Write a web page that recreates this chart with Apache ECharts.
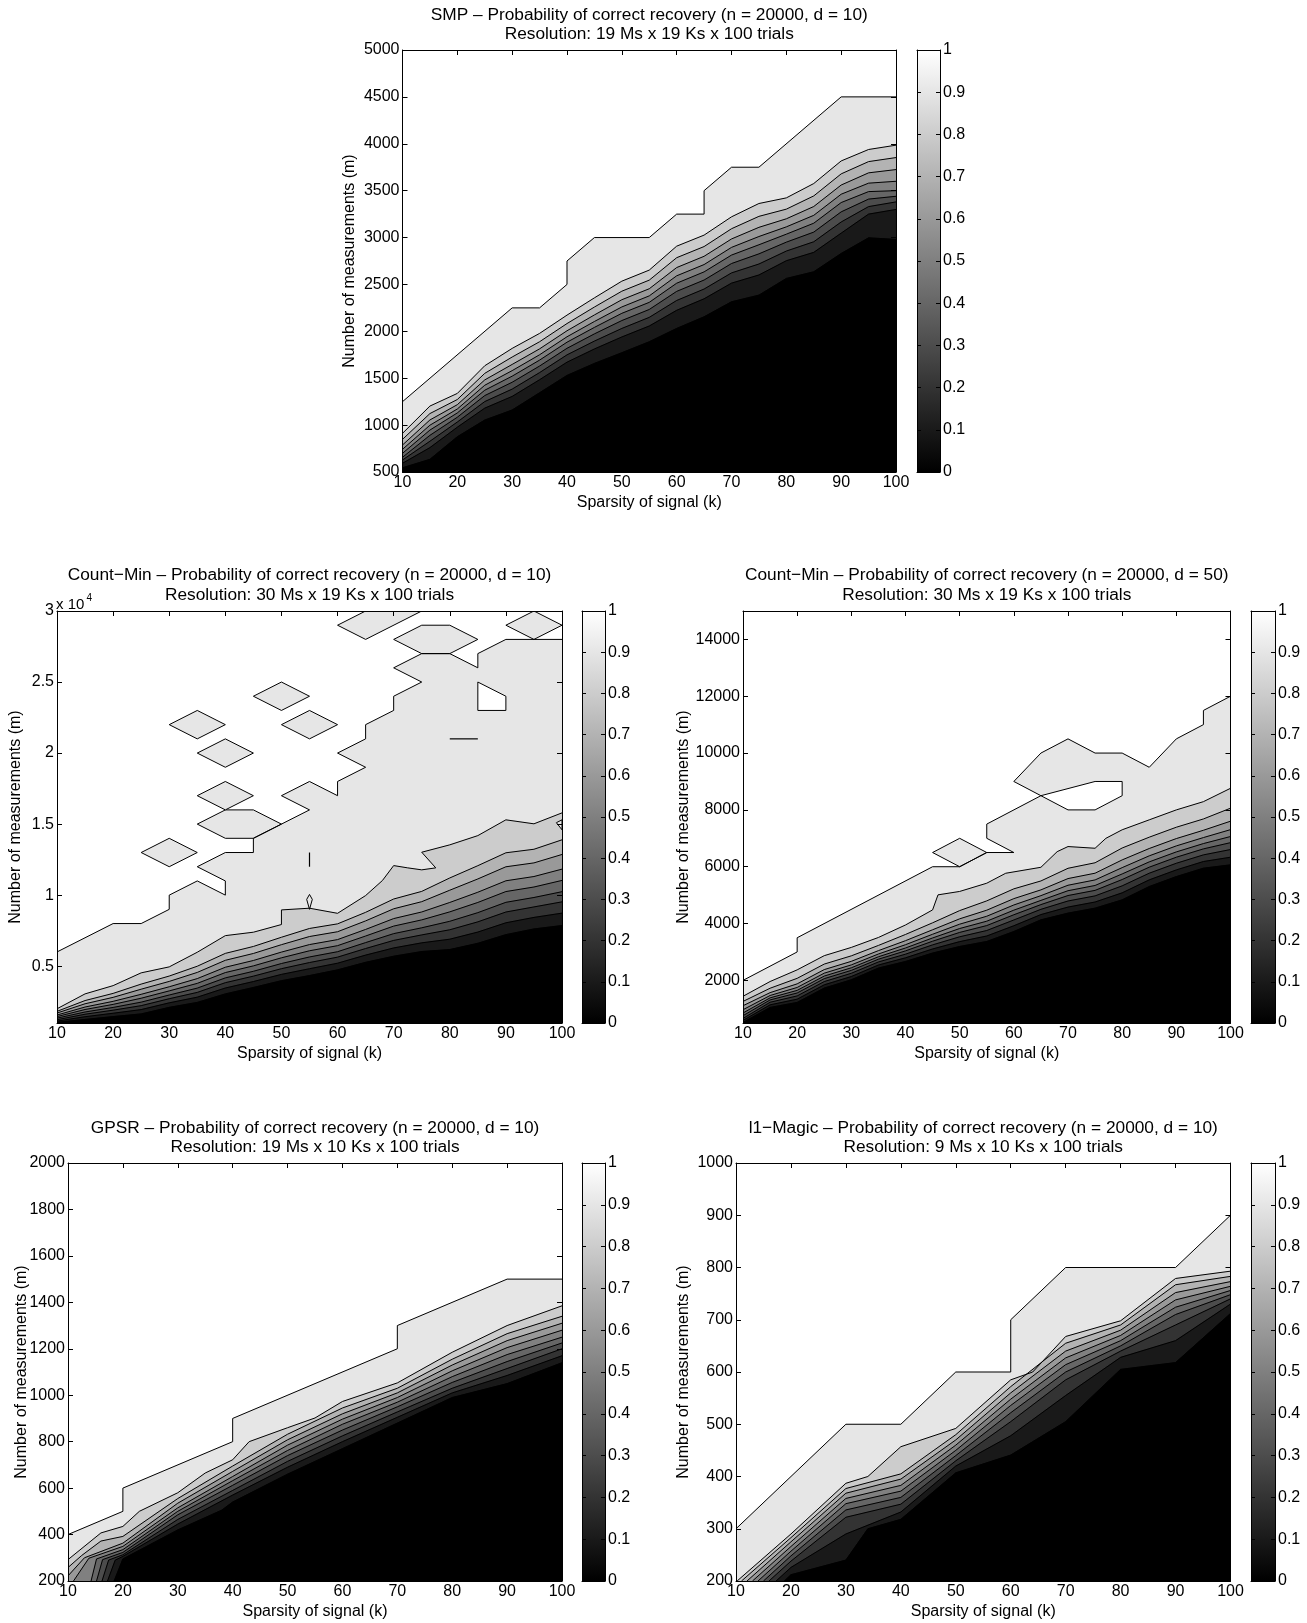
<!DOCTYPE html>
<html><head><meta charset="utf-8">
<script src="https://cdn.jsdelivr.net/npm/echarts@6/dist/echarts.min.js"></script>
<style>html,body{margin:0;padding:0;background:#fff}#c{width:1307px;height:1623px}</style>
</head><body><div id="c"></div>
<script>
// ---------------- DATA ----------------
const K19 = [10,15,20,25,30,35,40,45,50,55,60,65,70,75,80,85,90,95,100];
const xTicks = [10,20,30,40,50,60,70,80,90,100];
const cbarTicks = [0,0.1,0.2,0.3,0.4,0.5,0.6,0.7,0.8,0.9,1];
const cbarLabels = ['0','0.1','0.2','0.3','0.4','0.5','0.6','0.7','0.8','0.9','1'];

// SMP
const smpYTicks = [500,1000,1500,2000,2500,3000,3500,4000,4500,5000];
const smpTop = [[10,1250],[30,2250],[35,2250],[40,2500],[40,2750],[45,3000],[55,3000],[60,3250],[65,3250],[65,3500],[70,3750],[75,3750],[90,4500],[100,4500]];
const smpP90 = [912,1203,1338,1633,1818,1978,2173,2357,2535,2653,2908,3026,3221,3363,3423,3576,3817,3939,3985];
const smpP80 = [848,1123,1273,1552,1726,1889,2083,2259,2428,2546,2785,2904,3094,3226,3303,3444,3679,3810,3853];
const smpP70 = [788,1055,1218,1482,1647,1813,2006,2175,2337,2454,2680,2800,2985,3109,3200,3331,3560,3690,3725];
const smpP60 = [742,999,1172,1425,1581,1750,1942,2105,2260,2378,2592,2712,2895,3011,3114,3237,3462,3580,3600];
const smpP50 = [699,947,1130,1372,1522,1693,1884,2042,2192,2309,2513,2634,2813,2923,3036,3153,3373,3490,3500];
const smpP40 = [657,891,1084,1315,1457,1630,1819,1973,2115,2233,2426,2547,2723,2826,2951,3058,3274,3410,3440];
const smpP30 = [628,828,1033,1251,1384,1560,1749,1896,2031,2149,2329,2451,2623,2718,2856,2955,3166,3330,3380];
const smpP20 = [593,760,978,1181,1306,1484,1671,1812,1940,2057,2224,2347,2514,2601,2753,2842,3047,3250,3300];
const smpP10 = [545,635,876,1054,1161,1345,1530,1658,1772,1889,2031,2155,2315,2386,2564,2635,2830,2997,2980];

// Count-Min d=10
const cm10YTicks = [5000,10000,15000,20000,25000,30000];
const cm10YLabels = ['0.5','1','1.5','2','2.5','3'];
const cm10Top = [[10,6000],[20,8000],[25,8000],[30,9000],[30,10000],[35,11000],[40,10000],[40,11000],[35,12000],[40,13000],[45,13000],[45,14000],[50,15000],[55,16000],[50,17000],[55,18000],[60,17000],[60,18000],[65,19000],[60,20000],[65,21000],[65,22000],[70,23000],[70,24000],[75,25000],[70,26000],[75,27000],[80,27000],[85,26000],[85,27000],[90,28000],[100,28000]];
const cm10P90 = [[10,2000],[15,3050],[20,3630],[25,4530],[30,4950],[35,5980],[40,7150],[45,7390],[50,7930],[50,8960],[55,9080],[60,8720],[65,9970],[68,11030],[70,12080],[72.5,11920],[75,11780],[77.5,11920],[75,13020],[80,13540],[85,14190],[90,15300],[95,15020],[100,15790]];
const cm10P80 = [1820,2580,3084,3738,4304,4996,5900,6388,7035,7654,7978,8789,9728,10263,11209,12074,12981,13229,13894];
const cm10P70 = [1700,2353,2805,3379,3927,4561,5413,5894,6513,7087,7424,8187,9039,9539,10347,11140,11995,12269,12862];
const cm10P60 = [1560,2125,2525,3020,3550,4125,4925,5400,5990,6520,6870,7585,8350,8815,9485,10205,11010,11310,11830];
const cm10P50 = [1450,1950,2310,2744,3260,3790,4550,5020,5588,6084,6444,7122,7820,8258,8822,9486,10252,10572,11036];
const cm10P40 = [1340,1775,2095,2468,2970,3455,4175,4640,5186,5648,6018,6659,7290,7701,8159,8767,9494,9834,10242];
const cm10P30 = [1230,1618,1902,2220,2709,3154,3838,4298,4824,5256,5635,6242,6813,7200,7562,8120,8812,9170,9527];
const cm10P20 = [1130,1443,1687,1944,2419,2819,3463,3918,4422,4820,5209,5779,6283,6643,6899,7401,8054,8432,8733];
const cm10P10 = [1050,1250,1450,1640,2100,2450,3050,3500,3980,4340,4740,5270,5700,6030,6170,6610,7220,7620,7860];
const cm10Islands = [
  [[25,13000],[30,14000],[35,13000],[30,12000]],
  [[35,15000],[40,16000],[45,16000],[50,15000],[45,14000],[40,14000]],
  [[35,17000],[40,18000],[45,17000],[40,16000]],
  [[35,20000],[40,21000],[45,20000],[40,19000]],
  [[30,22000],[35,23000],[40,22000],[35,21000]],
  [[50,22000],[55,23000],[60,22000],[55,21000]],
  [[45,24000],[50,25000],[55,24000],[50,23000]],
  [[60,29000],[65,30000],[75,30000],[65,28000]],
  [[70,28000],[75,29000],[80,29000],[85,28000],[80,27000],[75,27000]],
  [[90,29000],[95,30000],[100,29000],[95,28000]],
  [[55,9000],[54.5,9700],[55,10050],[55.5,9700]],
  [[99,15100],[100,14600],[100,15300]]
];
const cm10Holes = [[[85,25000],[90,24000],[90,23000],[85,23000]]];
const cm10Segs = [[[55,12000],[55,13000]],[[80,21000],[85,21000]]];

// Count-Min d=50
const cm50YTicks = [2000,4000,6000,8000,10000,12000,14000];
const cm50Top = [[10,2000],[20,3000],[20,3500],[45,6000],[50,6000],[55,6500],[60,6500],[55,7000],[55,7500],[65,8500],[60,9000],[65,10000],[70,10500],[75,10000],[80,10000],[85,9500],[90,10500],[95,11000],[95,11500],[100,12000]];
const cm50P90 = [[10,1440],[15,1960],[20,2370],[25,2870],[30,3160],[35,3510],[40,3950],[45,4480],[46,5010],[50,5130],[55,5420],[58.5,5770],[65,5980],[68,6530],[70,6710],[75,6650],[77,7000],[80,7300],[85,7650],[90,8000],[95,8290],[100,8760]];
const cm50P80 = [1259,1723,2072,2574,2864,3230,3616,4026,4456,4798,5222,5499,5945,6139,6659,7040,7390,7681,8060];
const cm50P70 = [1108,1568,1877,2380,2671,3047,3397,3781,4166,4470,4877,5185,5583,5772,6240,6641,6991,7283,7602];
const cm50P60 = [967,1468,1751,2254,2545,2928,3256,3623,3978,4257,4654,4982,5348,5535,5968,6383,6733,7026,7305];
const cm50P50 = [852,1385,1648,2152,2443,2831,3140,3493,3825,4083,4471,4815,5156,5340,5746,6171,6521,6815,7063];
const cm50P40 = [757,1312,1556,2061,2352,2745,3038,3378,3688,3929,4309,4667,4986,5168,5549,5984,6334,6628,6847];
const cm50P30 = [662,1230,1453,1958,2250,2648,2922,3249,3534,3755,4126,4501,4794,4974,5327,5772,6122,6417,6605];
const cm50P20 = [591,1139,1339,1844,2136,2541,2794,3105,3364,3562,3923,4316,4580,4758,5081,5538,5888,6183,6335];
const cm50P10 = [521,1048,1224,1730,2022,2433,2665,2961,3193,3369,3720,4131,4367,4542,4834,5303,5653,5949,6066];
const cm50Islands = [[[45,6500],[50,7000],[55,6500],[50,6000]]];
const cm50Holes = [[[65,8500],[70,8000],[75,8000],[80,8500],[80,9000],[75,9000]]];

// GPSR
const gpsrYTicks = [200,400,600,800,1000,1200,1400,1600,1800,2000];
const gpsrTop = [[10,400],[20,500],[20,600],[40,800],[40,900],[70,1200],[70,1300],[90,1500],[100,1500]];
const gpsrP90 = [[10,292],[16,407],[20,435],[23,500],[30,580],[35,665],[40,722],[43,800],[50,860],[55,902],[60,973],[70,1053],[80,1185],[90,1300],[100,1385]];
const gpsrP80 = [[10,258],[12.5,310],[16,372],[20,392],[30,555],[40,695],[50,832],[60,945],[70,1030],[80,1155],[90,1265],[100,1340]];
const gpsrP70 = [[10,222],[13,300],[20,363],[30,535],[40,672],[50,808],[60,920],[70,1010],[80,1130],[90,1235],[100,1310]];
const gpsrP60 = [[11,200],[13.8,298],[20,349],[30,515],[40,650],[50,785],[60,897],[70,990],[80,1105],[90,1205],[100,1280]];
const gpsrP50 = [[14.2,200],[15.2,295],[20,335],[30,500],[40,632],[50,762],[60,875],[70,970],[80,1080],[90,1175],[100,1250]];
const gpsrP40 = [[15.2,200],[16.3,292],[20,323],[30,485],[40,612],[50,740],[60,850],[70,950],[80,1055],[90,1145],[100,1225]];
const gpsrP30 = [[16.2,200],[17.4,290],[20,313],[30,465],[40,590],[50,715],[60,825],[70,928],[80,1030],[90,1115],[100,1200]];
const gpsrP20 = [[17.2,200],[18.6,290],[20,306],[30,445],[40,570],[50,690],[60,800],[70,905],[80,1010],[90,1085],[100,1170]];
const gpsrP10 = [[18.4,200],[20,295],[30,420],[38,505],[40,540],[50,660],[60,770],[70,880],[80,990],[90,1050],[100,1140]];

// l1-Magic
const l1mYTicks = [200,300,400,500,600,700,800,900,1000];
const l1mTop = [[10,300],[30,500],[40,500],[50,600],[60,600],[60,700],[70,800],[90,800],[100,900]];
const l1mP90 = [[10.2,200],[20,290],[30,387],[34,400],[40,457],[50,492],[60,585],[64,600],[70,668],[80,698],[90,779],[100,793]];
const l1mP80 = [[11,200],[20,283],[30,377],[40,405],[50,480],[60,572],[70,655],[80,690],[90,767],[100,783]];
const l1mP70 = [[12,200],[20,275],[30,368],[40,395],[50,470],[60,560],[70,640],[80,680],[90,752],[100,773]];
const l1mP60 = [[13,200],[20,266],[30,358],[40,383],[50,460],[60,548],[70,627],[80,670],[90,738],[100,764]];
const l1mP50 = [[14,200],[20,257],[30,348],[40,372],[50,450],[60,536],[70,614],[80,660],[90,724],[100,756]];
const l1mP40 = [[15,200],[20,248],[30,336],[40,360],[50,440],[60,522],[70,600],[80,650],[90,710],[100,748]];
const l1mP30 = [[16,200],[20,238],[30,322],[40,347],[50,430],[60,505],[70,585],[80,640],[90,690],[100,740]];
const l1mP20 = [[17.3,200],[20,226],[30,290],[40,332],[50,420],[60,478],[70,555],[80,628],[90,660],[100,730]];
const l1mP10 = [[18.8,200],[20,212],[30,240],[34,300],[40,318],[50,407],[60,441],[70,505],[80,605],[90,618],[100,712]];

// ---------------- BUILD ----------------
const FONT = '"Liberation Sans", Arial, Helvetica, sans-serif';
const FS = 16;
const TFS = 17.3;
const BLACK = '#000';
const pairs = (K, v) => K.map((k, i) => [k, v[i]]);

const panels = [
  { title: ['SMP \u2013 Probability of correct recovery (n = 20000, d = 10)', 'Resolution: 19 Ms x 19 Ks x 100 trials'],
    plot: {left: 402.5, top: 50, width: 493.5, height: 422}, cbarLeft: 917, cbarW: 23, titleY: [15, 34.5],
    yMin: 500, yMax: 5000, yTicks: smpYTicks, yFmt: v => String(v), yNameGap: 45,
    levels: [smpTop, pairs(K19, smpP90), pairs(K19, smpP80), pairs(K19, smpP70), pairs(K19, smpP60), pairs(K19, smpP50), pairs(K19, smpP40), pairs(K19, smpP30), pairs(K19, smpP20), pairs(K19, smpP10)],
    islands: [], holes: [], segs: [] },
  { title: ['Count\u2212Min \u2013 Probability of correct recovery (n = 20000, d = 10)', 'Resolution: 30 Ms x 19 Ks x 100 trials'],
    plot: {left: 57, top: 611, width: 505, height: 412}, cbarLeft: 582, cbarW: 23, titleY: [575.5, 595],
    yMin: 1000, yMax: 30000, yTicks: cm10YTicks, yFmt: v => cm10YLabels[cm10YTicks.indexOf(v)] || '', yNameGap: 33,
    levels: [cm10Top, cm10P90, pairs(K19, cm10P80), pairs(K19, cm10P70), pairs(K19, cm10P60), pairs(K19, cm10P50), pairs(K19, cm10P40), pairs(K19, cm10P30), pairs(K19, cm10P20), pairs(K19, cm10P10)],
    islands: cm10Islands, holes: cm10Holes, segs: cm10Segs },
  { title: ['Count\u2212Min \u2013 Probability of correct recovery (n = 20000, d = 50)', 'Resolution: 30 Ms x 19 Ks x 100 trials'],
    plot: {left: 743, top: 611, width: 487.5, height: 412}, cbarLeft: 1251, cbarW: 24, titleY: [575.5, 595],
    yMin: 500, yMax: 15000, yTicks: cm50YTicks, yFmt: v => String(v), yNameGap: 51,
    levels: [cm50Top, cm50P90, pairs(K19, cm50P80), pairs(K19, cm50P70), pairs(K19, cm50P60), pairs(K19, cm50P50), pairs(K19, cm50P40), pairs(K19, cm50P30), pairs(K19, cm50P20), pairs(K19, cm50P10)],
    islands: cm50Islands, holes: cm50Holes, segs: [] },
  { title: ['GPSR \u2013 Probability of correct recovery (n = 20000, d = 10)', 'Resolution: 19 Ms x 10 Ks x 100 trials'],
    plot: {left: 68, top: 1163, width: 494, height: 418}, cbarLeft: 582, cbarW: 23, titleY: [1128, 1147.5],
    yMin: 200, yMax: 2000, yTicks: gpsrYTicks, yFmt: v => String(v), yNameGap: 38,
    levels: [gpsrTop, gpsrP90, gpsrP80, gpsrP70, gpsrP60, gpsrP50, gpsrP40, gpsrP30, gpsrP20, gpsrP10],
    islands: [], holes: [], segs: [] },
  { title: ['l1\u2212Magic \u2013 Probability of correct recovery (n = 20000, d = 10)', 'Resolution: 9 Ms x 10 Ks x 100 trials'],
    plot: {left: 736, top: 1163, width: 494.5, height: 418}, cbarLeft: 1251, cbarW: 24, titleY: [1128, 1147.5],
    yMin: 200, yMax: 1000, yTicks: l1mYTicks, yFmt: v => String(v), yNameGap: 44,
    levels: [l1mTop, l1mP90, l1mP80, l1mP70, l1mP60, l1mP50, l1mP40, l1mP30, l1mP20, l1mP10],
    islands: [], holes: [], segs: [] }
];

function grayOf(i) { const g = Math.round(255 * (0.9 - 0.1 * i)); return 'rgb(' + g + ',' + g + ',' + g + ')'; }

function makeRender(p) {
  return function (params, api) {
    const c = q => api.coord(q);
    const children = [];
    p.levels.forEach((L, i) => {
      const pts = L.concat([[L[L.length - 1][0], p.yMin], [L[0][0], p.yMin]]);
      children.push({type: 'polygon', silent: true, shape: {points: pts.map(c)}, style: {fill: grayOf(i), stroke: grayOf(i), lineWidth: 0.5}});
    });
    p.holes.forEach(h => children.push({type: 'polygon', silent: true, shape: {points: h.map(c)}, style: {fill: '#fff', stroke: BLACK, lineWidth: 1}}));
    p.islands.forEach(h => children.push({type: 'polygon', silent: true, shape: {points: h.map(c)}, style: {fill: grayOf(0), stroke: BLACK, lineWidth: 1}}));
    p.levels.forEach(L => children.push({type: 'polyline', silent: true, shape: {points: L.map(c)}, style: {fill: 'none', stroke: BLACK, lineWidth: 1}}));
    p.segs.forEach(s => children.push({type: 'polyline', silent: true, shape: {points: s.map(c)}, style: {fill: 'none', stroke: BLACK, lineWidth: 1.2}}));
    return {type: 'group', children: children};
  };
}

function renderBar(params, api) {
  const a = api.coord([0, 0]), b = api.coord([1, 1]);
  return {type: 'rect', silent: true, shape: {x: a[0], y: b[1], width: b[0] - a[0], height: a[1] - b[1]},
    style: {fill: new echarts.graphic.LinearGradient(0, 1, 0, 0, [{offset: 0, color: '#000'}, {offset: 1, color: '#fff'}])}};
}

const grids = [], xAxes = [], yAxes = [], series = [], graphics = [];
const axLine = {show: true, onZero: false, lineStyle: {color: BLACK, width: 1}};
const lbl = {color: BLACK, fontSize: FS, fontFamily: FONT};

panels.forEach(p => {
  const gi = grids.length;
  grids.push({left: p.plot.left, top: p.plot.top, width: p.plot.width, height: p.plot.height, containLabel: false, outerBoundsMode: 'none'});
  grids.push({left: p.cbarLeft, top: p.plot.top, width: p.cbarW, height: p.plot.height, containLabel: false, outerBoundsMode: 'none'});
  const xb = xAxes.length, yb = yAxes.length;
  xAxes.push({type: 'value', gridIndex: gi, position: 'bottom', min: 10, max: 100, z: 10, axisLine: axLine, splitLine: {show: false},
    axisTick: {show: true, inside: true, length: 5, lineStyle: {color: BLACK}, customValues: xTicks},
    axisLabel: Object.assign({show: true, margin: 3, customValues: xTicks}, lbl),
    name: 'Sparsity of signal (k)', nameLocation: 'middle', nameGap: 23, nameMoveOverlap: false, nameTextStyle: lbl});
  xAxes.push({type: 'value', gridIndex: gi, position: 'top', min: 10, max: 100, z: 10, axisLine: axLine, splitLine: {show: false},
    axisTick: {show: true, inside: true, length: 5, lineStyle: {color: BLACK}, customValues: xTicks}, axisLabel: {show: false}});
  xAxes.push({type: 'value', gridIndex: gi + 1, position: 'bottom', min: 0, max: 1, z: 10, axisLine: axLine, splitLine: {show: false}, axisTick: {show: false}, axisLabel: {show: false}});
  xAxes.push({type: 'value', gridIndex: gi + 1, position: 'top', min: 0, max: 1, z: 10, axisLine: axLine, splitLine: {show: false}, axisTick: {show: false}, axisLabel: {show: false}});

  yAxes.push({type: 'value', gridIndex: gi, position: 'left', min: p.yMin, max: p.yMax, z: 10, axisLine: axLine, splitLine: {show: false},
    axisTick: {show: true, inside: true, length: 5, lineStyle: {color: BLACK}, customValues: p.yTicks},
    axisLabel: Object.assign({show: true, margin: 3, customValues: p.yTicks, formatter: p.yFmt}, lbl),
    name: 'Number of measurements (m)', nameLocation: 'middle', nameGap: p.yNameGap, nameMoveOverlap: false, nameTextStyle: lbl});
  yAxes.push({type: 'value', gridIndex: gi, position: 'right', min: p.yMin, max: p.yMax, z: 10, axisLine: axLine, splitLine: {show: false},
    axisTick: {show: true, inside: true, length: 5, lineStyle: {color: BLACK}, customValues: p.yTicks}, axisLabel: {show: false}});
  yAxes.push({type: 'value', gridIndex: gi + 1, position: 'right', min: 0, max: 1, z: 10, axisLine: axLine, splitLine: {show: false},
    axisTick: {show: true, inside: true, length: 4, lineStyle: {color: BLACK}, customValues: cbarTicks},
    axisLabel: Object.assign({show: true, margin: 3, customValues: cbarTicks, formatter: v => cbarLabels[cbarTicks.indexOf(v)] || String(+v.toFixed(1))}, lbl)});
  yAxes.push({type: 'value', gridIndex: gi + 1, position: 'left', min: 0, max: 1, z: 10, axisLine: axLine, splitLine: {show: false},
    axisTick: {show: true, inside: true, length: 4, lineStyle: {color: BLACK}, customValues: cbarTicks}, axisLabel: {show: false}});

  series.push({type: 'custom', coordinateSystem: 'cartesian2d', xAxisIndex: xb, yAxisIndex: yb, clip: true, silent: true, z: 1,
    data: [[55, (p.yMin + p.yMax) / 2]], renderItem: makeRender(p)});
  series.push({type: 'custom', coordinateSystem: 'cartesian2d', xAxisIndex: xb + 2, yAxisIndex: yb + 2, clip: true, silent: true, z: 1,
    data: [[0.5, 0.5]], renderItem: renderBar});

  const cx = p.plot.left + p.plot.width / 2;
  p.title.forEach((t, i) => graphics.push({type: 'text', x: cx, y: p.titleY[i], silent: true,
    style: {text: t, fill: BLACK, font: TFS + 'px ' + FONT, align: 'center', verticalAlign: 'middle', textAlign: 'center', textVerticalAlign: 'middle'}}));
});
graphics.push({type: 'text', x: 56, y: 605, silent: true, style: {text: 'x 10', fill: BLACK, font: '15px ' + FONT, align: 'left', verticalAlign: 'middle'}});
graphics.push({type: 'text', x: 86.5, y: 598, silent: true, style: {text: '4', fill: BLACK, font: '10px ' + FONT, align: 'left', verticalAlign: 'middle'}});

const chart = echarts.init(document.getElementById('c'), null, {renderer: 'canvas'});
chart.setOption({
  animation: false,
  backgroundColor: '#fff',
  textStyle: {fontFamily: FONT},
  grid: grids, xAxis: xAxes, yAxis: yAxes, series: series, graphic: graphics
});
</script></body></html>
